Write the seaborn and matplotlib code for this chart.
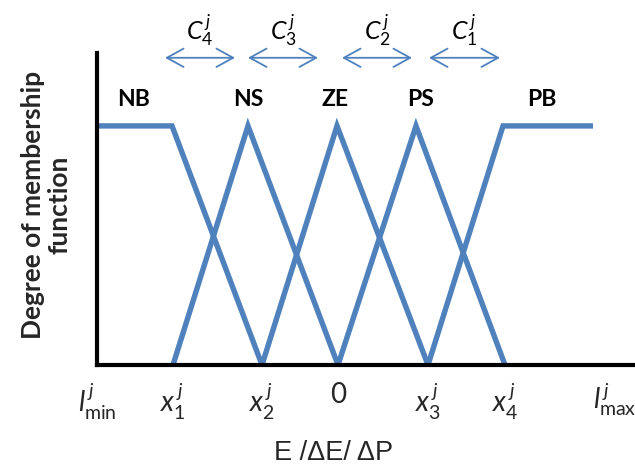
import matplotlib
matplotlib.use("Agg")
import matplotlib.pyplot as plt
import seaborn as sns
import pandas as pd

sns.set_theme(style="white")
plt.rcParams["font.family"] = ["Lato", "DejaVu Sans"]
plt.rcParams["mathtext.fontset"] = "custom"
plt.rcParams["mathtext.rm"] = "Lato"
plt.rcParams["mathtext.it"] = "Lato:italic"
plt.rcParams["mathtext.bf"] = "Lato:bold"

# Universe of discourse (normalised units)
l_min, x1, x2, zero, x3, x4, l_max = -2.41, -1.65, -0.76, 0.0, 0.90, 1.67, 2.77
x_right = 2.97

# Fuzzy set breakpoints (x) and membership degrees (mu)
sets = ["NB", "NS", "ZE", "PS", "PB"]
set_x = {
    "NB": [l_min, -1.66, x2],
    "NS": [x1, -0.90, zero],
    "ZE": [x2, -0.01, x3],
    "PS": [zero, 0.78, x4],
    "PB": [x3, 1.65, 2.55],
}
set_mu = {
    "NB": [1.0, 1.0, 0.0],
    "NS": [0.0, 1.0, 0.0],
    "ZE": [0.0, 1.0, 0.0],
    "PS": [0.0, 1.0, 0.0],
    "PB": [0.0, 1.0, 1.0],
}
label_x = {"NB": -2.04, "NS": -0.90, "ZE": -0.03, "PS": 0.83, "PB": 2.04}

# Widths between neighbouring set centres
width_names = [r"$C^{\,j}_{4}$", r"$C^{\,j}_{3}$", r"$C^{\,j}_{2}$", r"$C^{\,j}_{1}$"]
width_spans = [(-1.73, -1.03), (-0.90, -0.20), (0.04, 0.74), (0.91, 1.62)]

tick_pos = [l_min, x1, x2, zero, x3, x4, l_max]
tick_labels = [r"$l^{\,j}_{\mathrm{min}}$", r"$x^{\,j}_{1}$", r"$x^{\,j}_{2}$", "0",
               r"$x^{\,j}_{3}$", r"$x^{\,j}_{4}$", r"$l^{\,j}_{\mathrm{max}}$"]

rows = []
for s in sets:
    for i, (xv, mv) in enumerate(zip(set_x[s], set_mu[s])):
        rows.append({"set": s, "order": i, "x": xv, "mu": mv})
df = pd.DataFrame(rows)

blue = "#4F81BD"
fig = plt.figure(figsize=(6.35, 4.74), dpi=100)
ax = fig.add_axes([97 / 635, 109 / 474, 538 / 635, 312 / 474])

sns.lineplot(data=df, x="x", y="mu", units="set", estimator=None, sort=False,
             color=blue, linewidth=3.9, ax=ax, solid_joinstyle="miter",
             solid_capstyle="butt")

ax.set_xlim(l_min, x_right)
ax.set_ylim(0, 1.305)

for s in sets:
    ax.text(label_x[s], 1.109, s, ha="center", va="center",
            fontsize=16.5, fontweight="bold", color="black")

for name, (a, b) in zip(width_names, width_spans):
    ax.annotate("", xy=(a, 1.285), xytext=(b, 1.285), xycoords="data",
                annotation_clip=False,
                arrowprops=dict(arrowstyle="<->,head_length=1.0,head_width=0.55",
                                color=blue, lw=1.3, shrinkA=0, shrinkB=0))
    ax.text((a + b) / 2, 1.40, name, ha="center", va="center",
            fontsize=18, color="black", clip_on=False)

for side in ["top", "right"]:
    ax.spines[side].set_visible(False)
for side in ["left", "bottom"]:
    ax.spines[side].set_color("black")
    ax.spines[side].set_linewidth(3.0)

ax.set_yticks([])
ax.set_xticks(tick_pos)
ax.set_xticklabels(tick_labels, fontsize=20)
ax.tick_params(axis="x", length=0, pad=12)

ax.set_xlabel("E /ΔE/ ΔP", fontsize=19.5, family=["Liberation Sans", "DejaVu Sans"],
              va="center")
ax.xaxis.set_label_coords(0.440, -0.282)
ax.set_ylabel("Degree of membership\nfunction", fontsize=19, fontweight="bold",
              va="center", linespacing=1.1)
ax.yaxis.set_label_coords(-0.094, 0.513)

fig.savefig("out.png", dpi=100)
